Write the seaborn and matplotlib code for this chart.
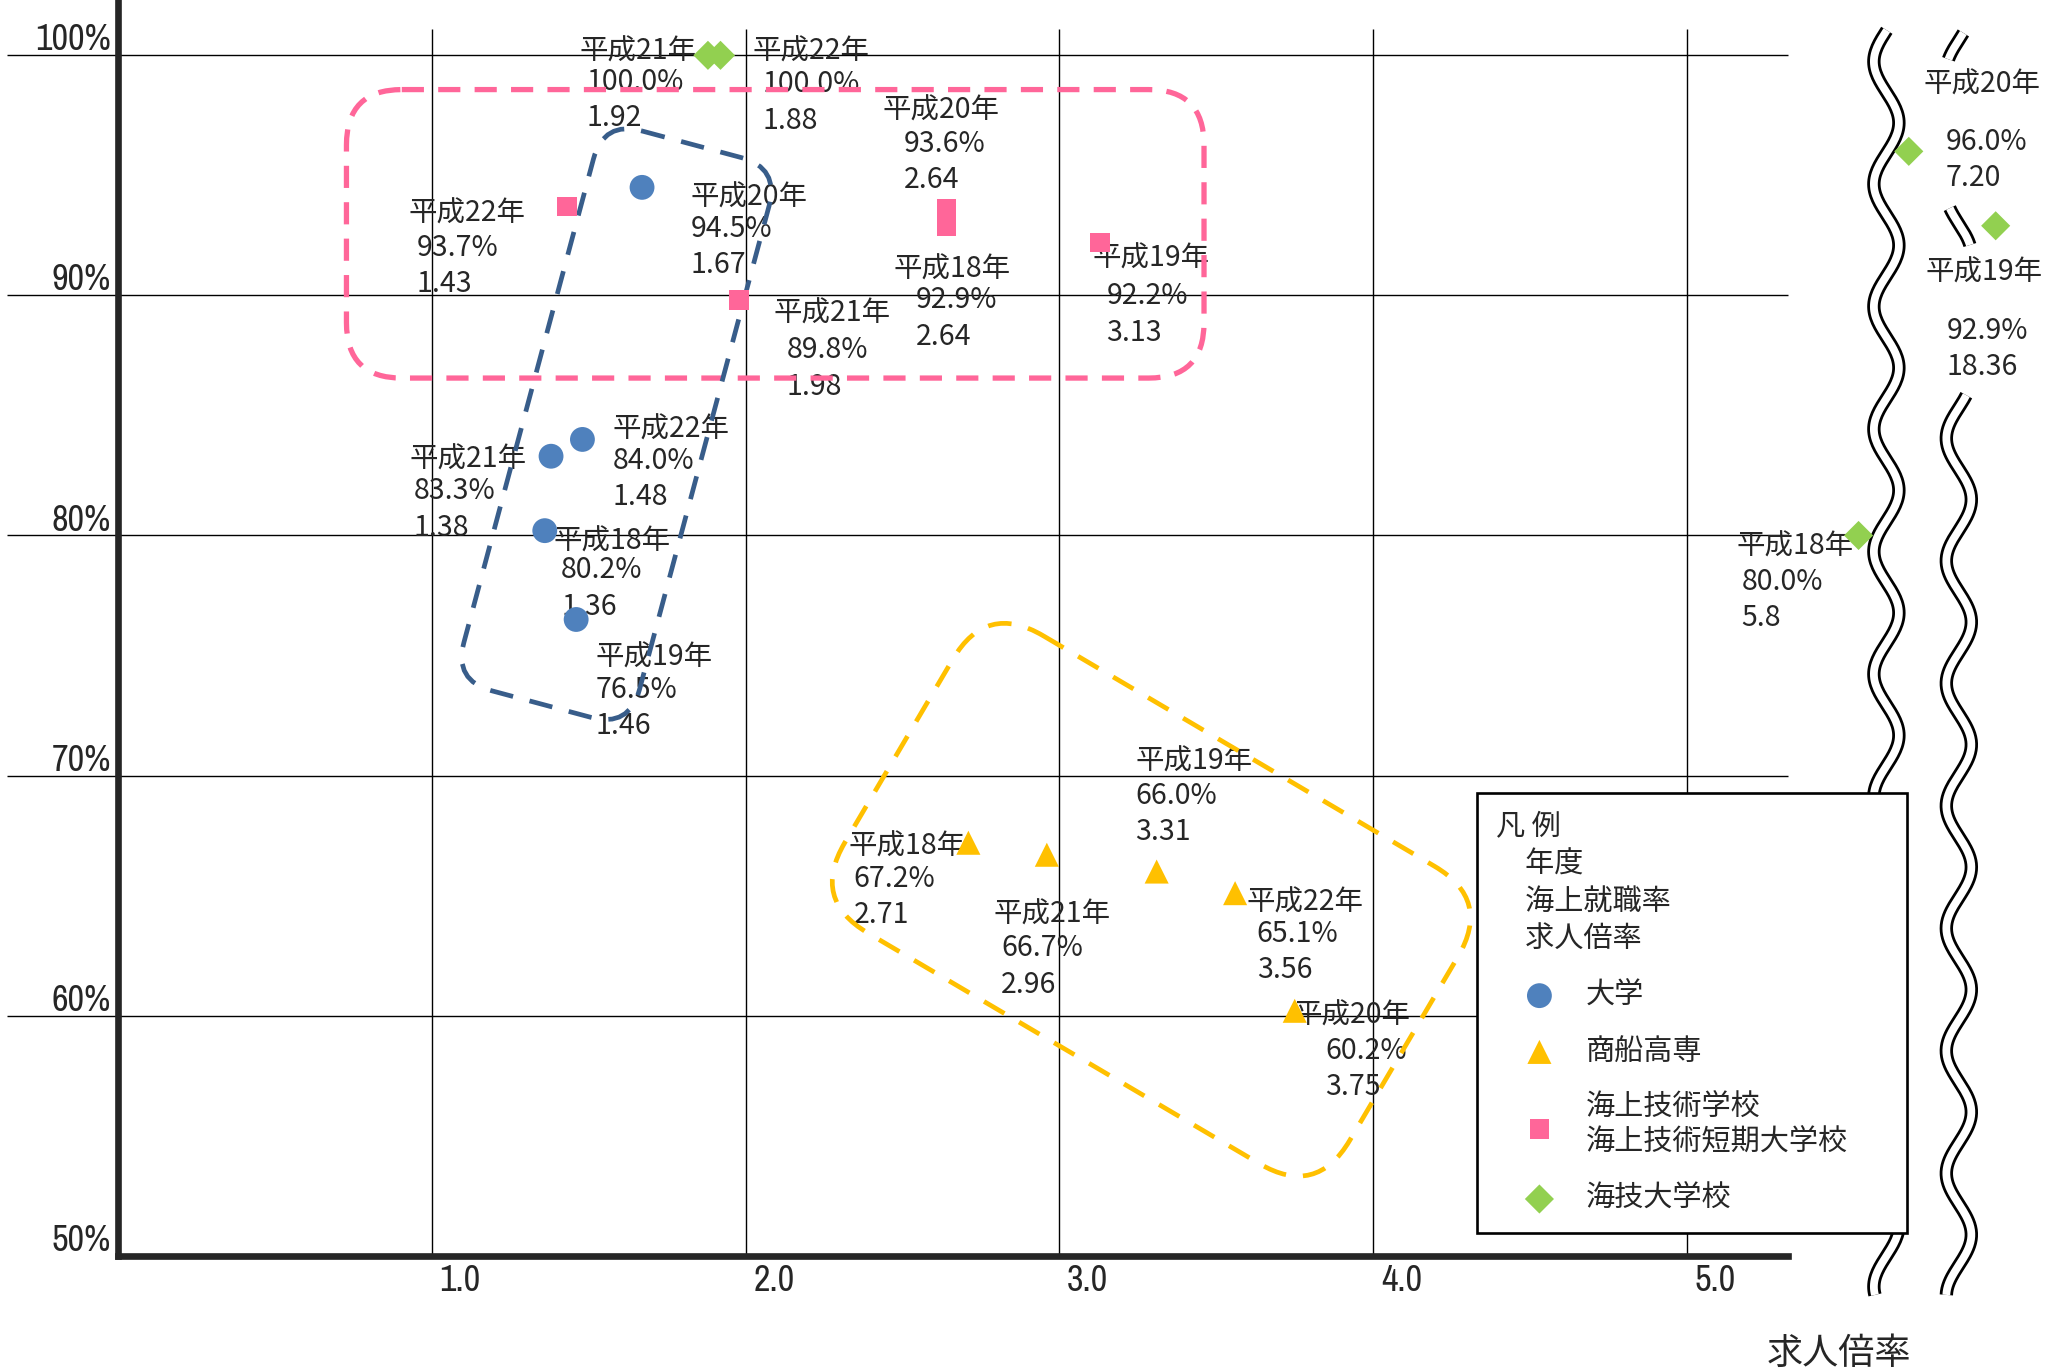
import numpy as np
import pandas as pd
import matplotlib
matplotlib.use("Agg")
import matplotlib.pyplot as plt
import seaborn as sns
from matplotlib.patches import FancyBboxPatch
from matplotlib.transforms import Affine2D, ScaledTranslation
from matplotlib.font_manager import FontProperties, fontManager

# ---------------- data ----------------
years = ["平成18年", "平成19年", "平成20年", "平成21年", "平成22年"]
schools = ["大学", "商船高専", "海上技術学校\n海上技術短期大学校", "海技大学校"]

univ_rate = [80.2, 76.5, 94.5, 83.3, 84.0]
univ_ratio = ["1.36", "1.46", "1.67", "1.38", "1.48"]
kosen_rate = [67.2, 66.0, 60.2, 66.7, 65.1]
kosen_ratio = ["2.71", "3.31", "3.75", "2.96", "3.56"]
gijutsu_rate = [92.9, 92.2, 93.6, 89.8, 93.7]
gijutsu_ratio = ["2.64", "3.13", "2.64", "1.98", "1.43"]
kaigi_rate = [80.0, 92.9, 96.0, 100.0, 100.0]
kaigi_ratio = ["5.8", "18.36", "7.20", "1.92", "1.88"]

x_ticks = [1, 2, 3, 4, 5]
x_tick_labels = ["1.0", "2.0", "3.0", "4.0", "5.0"]
y_ticks = [50, 60, 70, 80, 90, 100]
y_tick_labels = ["50%", "60%", "70%", "80%", "90%", "100%"]
legend_title = "凡 例\n\u3000年度\n\u3000海上就職率\n\u3000求人倍率"
x_label = "求人倍率"

# ---------------- style / layout ----------------
colors = ["#4F81BD", "#FFC000", "#FF6699", "#92D050"]
markers = ["o", "^", "s", "D"]
msizes = [320, 300, 200, 220]

CJK = ["Noto Sans CJK JP", "DejaVu Sans"]


def pick_narrow(size):
    best = None
    for f in fontManager.ttflist:
        n = f.name
        narrow = ("Narrow" in n) or ("Condensed" in n) or (str(f.stretch) in ("condensed", "semi-condensed", "extra-condensed"))
        if not narrow or "Mono" in n or "Serif" in n:
            continue
        if f.style != "normal":
            continue
        w = f.weight if isinstance(f.weight, int) else 400
        if w != 400:
            continue
        score = 0 if "Narrow" in n else (1 if "Roboto" in n else 2)
        if best is None or score < best[0]:
            best = (score, f.fname)
    if best is not None:
        return FontProperties(fname=best[1], size=size)
    return FontProperties(family=["Liberation Sans", "DejaVu Sans"], size=size)


TICKFONT = pick_narrow(26)

# label positions in reference pixel space (x1, y1 of year line, x2, y2 of value lines)
LAB = [
    [(420, 411, 426, 433), (452, 499, 452, 524), (524, 150, 524, 174), (311, 349, 314, 373), (465, 326, 465, 350)],
    [(644, 643, 648, 667), (862, 578, 862, 604), (982, 771, 1006, 798), (754, 694, 760, 720), (946, 685, 954, 709)],
    [(678, 205, 695, 228), (829, 196, 840, 225), (670, 84, 686, 109), (587, 238, 597, 266), (310, 162, 316, 188)],
    [(1318, 415, 1322, 442), (1462, 207, 1478, 251), (1460, 64, 1477, 108), (440, 39, 445, 62), (571, 39, 579, 64)],
]

# axes geometry in reference pixel space (1560 x 1040 grid)
X0, XU, Y0, Y100 = 89.6, 238.2, 953.2, 42.0
YU = (Y0 - Y100) / 50.0
X_END = 5.322

# broken x-axis scale definition
BREAK_VAL = [-10.0, X_END, 6.0, 10.0, 20.0, 100.0]
BREAK_POS = [-10.0, X_END, 5.641, 5.861, 6.008, 6.6]


def fwd(v):
    return np.interp(v, BREAK_VAL, BREAK_POS)


def inv(p):
    return np.interp(p, BREAK_POS, BREAK_VAL)


rates = [univ_rate, kosen_rate, gijutsu_rate, kaigi_rate]
ratios = [univ_ratio, kosen_ratio, gijutsu_ratio, kaigi_ratio]
rows = []
for s, r_list, q_list in zip(schools, rates, ratios):
    for yname, r, q in zip(years, r_list, q_list):
        rows.append({"school": s, "year": yname, "rate": r, "ratio": float(q), "ratio_txt": q})
df = pd.DataFrame(rows)

sns.set_style("white")
plt.rcParams["font.family"] = CJK

fig = plt.figure(figsize=(20.55, 13.7), dpi=100)
ax = fig.add_axes([X0 / 1560, 1 - Y0 / 1040, 1 - X0 / 1560, Y0 / 1040])
REF = Affine2D().scale(1 / 1560, -1 / 1040).translate(0, 1) + fig.transFigure

for s, c, m, sz in zip(schools, colors, markers, msizes):
    sub = df[df["school"] == s]
    sns.scatterplot(data=sub, x="ratio", y="rate", marker=m, s=sz, color=c,
                    edgecolor="none", linewidth=0, label=s, ax=ax, zorder=5, legend=False)

ax.set_xscale("function", functions=(fwd, inv))

# grid lines
ax.grid(False)
ax.vlines(x_ticks, 50, 100 + 20 / YU, colors="black", lw=1.0, zorder=1)
ax.hlines(y_ticks[1:], (5 - X0) / XU, X_END, colors="black", lw=1.0, zorder=1, clip_on=False)

# spines
for sp in ["top", "right"]:
    ax.spines[sp].set_visible(False)
ax.spines["left"].set_linewidth(4.8)
ax.spines["bottom"].set_linewidth(4.8)
ax.spines["bottom"].set_bounds(0, X_END)
ax.spines["left"].set_zorder(3)
ax.spines["bottom"].set_zorder(3)

ax.set_xticks(x_ticks)
ax.set_xticklabels(x_tick_labels, fontproperties=TICKFONT)
ax.set_yticks(y_ticks)
ax.set_yticklabels(y_tick_labels, fontproperties=TICKFONT)
ax.tick_params(axis="both", length=0)
ax.tick_params(axis="x", pad=6)
ax.tick_params(axis="y", pad=5)
for lab in ax.get_xticklabels():
    lab.set_transform(lab.get_transform() + ScaledTranslation(0.283, 0, fig.dpi_scale_trans))
for lab in ax.get_yticklabels():
    lab.set_transform(lab.get_transform() + ScaledTranslation(0, 0.184, fig.dpi_scale_trans))
ax.set_xlabel("")
ax.set_ylabel("")

# point labels
for si, s in enumerate(schools):
    for yi, yname in enumerate(years):
        x1, y1, x2, y2 = LAB[si][yi]
        rate = rates[si][yi]
        q = ratios[si][yi]
        kw = dict(transform=REF, fontsize=20.5, family=CJK, va="center", ha="left", zorder=3, clip_on=False)
        ax.text(x1, y1, yname, **kw)
        ax.text(x2, y2, f"{rate:.1f}%", **kw)
        ax.text(x2, y2 + 27.5, q, **kw)


# hand-drawn dashed groupings
def rbox(cx, cy, w, h, ang, r, color, lw, dash):
    p = FancyBboxPatch((cx - w / 2, cy - h / 2), w, h,
                       boxstyle=f"round,pad=0,rounding_size={r}",
                       transform=Affine2D().rotate_deg_around(cx, cy, ang) + REF,
                       fill=False, edgecolor=color, lw=lw, linestyle=(0, dash),
                       zorder=4, clip_on=False)
    ax.add_patch(p)


rbox(588.5, 177.5, 651, 219, 0, 42, "#FF6699", 3.8, (4.2, 2.7))
rbox(468, 322, 138, 440, 15, 30, "#385D8A", 3.4, (5.0, 3.6))
rbox(874, 683, 445, 262, 30.5, 50, "#FFC000", 3.4, (5.0, 3.6))


# break (wavy) lines
def wave(xc, y0, y1, phi, P=93.0, A=9.5):
    yy = np.linspace(y0, y1, 600)
    xx = xc + A * np.sin(2 * np.pi * (yy - phi) / P)
    ax.plot(xx, yy, color="black", lw=9.6, transform=REF, clip_on=False,
            solid_capstyle="butt", zorder=2)
    ax.plot(xx, yy, color="white", lw=5.6, transform=REF, clip_on=False,
            solid_capstyle="butt", zorder=2)


wave(1432, 23, 983, 70)
for a, b in [(25, 45), (158, 186), (300, 983)]:
    wave(1487, a, b, -16)

# axis label
ax.text(1396, 1028, x_label, transform=REF, fontsize=26, family=CJK,
        ha="center", va="center", clip_on=False)

# legend
handles, labels = ax.get_legend_handles_labels()
leg = ax.legend(handles, labels, title=legend_title,
                loc="upper left",
                bbox_to_anchor=(1121 / 1560, 1 - 940 / 1040, 327 / 1560, 338 / 1040),
                bbox_transform=fig.transFigure, mode="expand", borderaxespad=0,
                frameon=True, fancybox=False, edgecolor="black", framealpha=1,
                prop=FontProperties(family=CJK, size=21),
                title_fontproperties=FontProperties(family=CJK, size=21),
                alignment="left", handlelength=3.0, handletextpad=0.1,
                labelspacing=0.9, borderpad=0.65)
leg.get_title().set_linespacing(1.32)
leg.get_frame().set_linewidth(1.9)
leg.set_zorder(6)

ax.set_xlim(0, inv((1560 - X0) / XU))
ax.set_ylim(50, 50 + Y0 / YU)

fig.savefig("out.png", dpi=100)
